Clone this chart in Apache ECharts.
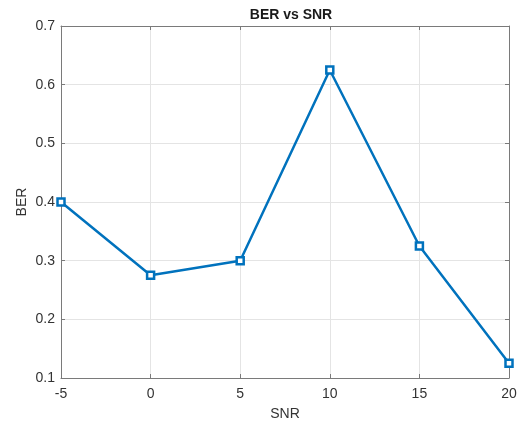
<!DOCTYPE html>
<html><head><meta charset="utf-8">
<script src="https://cdn.jsdelivr.net/npm/echarts@6/dist/echarts.min.js"></script>
<style>html,body{margin:0;padding:0;background:#fff}#c{width:522px;height:426px}</style>
</head><body><div id="c"></div>
<script>
const snr = [-5, 0, 5, 10, 15, 20];
const ber = [0.4, 0.275, 0.3, 0.625, 0.325, 0.125];
const xTicks = [-5, 0, 5, 10, 15, 20];
const yTicks = [0.1, 0.2, 0.3, 0.4, 0.5, 0.6, 0.7];

const chart = echarts.init(document.getElementById('c'));
const axisCol = '#7a7a7a';
const lblCol = '#333333';
const font = 'Liberation Sans, Arial, sans-serif';
chart.setOption({
  animation: false,
  title: { text: 'BER vs SNR', left: 286, top: 3, textAlign: 'center',
    textStyle: { fontSize: 14, fontWeight: 'bold', color: '#1a1a1a', fontFamily: font } },
  grid: { left: 61, right: 13, top: 26, bottom: 46, containLabel: false },
  xAxis: [{
    type: 'value', min: -5, max: 20, interval: 5,
    name: 'SNR', nameLocation: 'middle', nameGap: 29, nameMoveOverlap: false,
    nameTextStyle: { fontSize: 14, color: lblCol, fontFamily: font },
    axisLine: { show: true, onZero: false, lineStyle: { color: axisCol, width: 1 } },
    axisTick: { show: true, inside: true, length: 4, lineStyle: { color: axisCol } },
    axisLabel: { fontSize: 14, color: lblCol, margin: 9, fontFamily: font },
    splitLine: { show: true, lineStyle: { color: '#e4e4e4', width: 1 } }
  }, {
    type: 'value', position: 'top', min: -5, max: 20, interval: 5,
    axisLine: { show: true, onZero: false, lineStyle: { color: axisCol, width: 1 } },
    axisTick: { show: true, inside: true, length: 4, lineStyle: { color: axisCol } },
    axisLabel: { show: false }, splitLine: { show: false }
  }],
  yAxis: [{
    type: 'value', min: 0.1, max: 0.7, interval: 0.1,
    name: 'BER', nameLocation: 'middle', nameGap: 32, nameRotate: 90, nameMoveOverlap: false,
    nameTextStyle: { fontSize: 14, color: lblCol, fontFamily: font },
    axisLine: { show: true, onZero: false, lineStyle: { color: axisCol, width: 1 } },
    axisTick: { show: true, inside: true, length: 4, lineStyle: { color: axisCol } },
    axisLabel: { fontSize: 14, color: lblCol, margin: 6, fontFamily: font,
      formatter: v => (Math.round(v * 10) / 10).toString() },
    splitLine: { show: true, lineStyle: { color: '#e4e4e4', width: 1 } }
  }, {
    type: 'value', position: 'right', min: 0.1, max: 0.7, interval: 0.1,
    axisLine: { show: true, onZero: false, lineStyle: { color: axisCol, width: 1 } },
    axisTick: { show: true, inside: true, length: 4, lineStyle: { color: axisCol } },
    axisLabel: { show: false }, splitLine: { show: false }
  }],
  series: [{
    type: 'line',
    data: snr.map((x, i) => [x, ber[i]]),
    lineStyle: { color: '#0072BD', width: 2.5 },
    itemStyle: { color: '#fff', borderColor: '#0072BD', borderWidth: 2.5 },
    symbol: 'rect', symbolSize: 7, showSymbol: true
  }]
});
</script></body></html>
